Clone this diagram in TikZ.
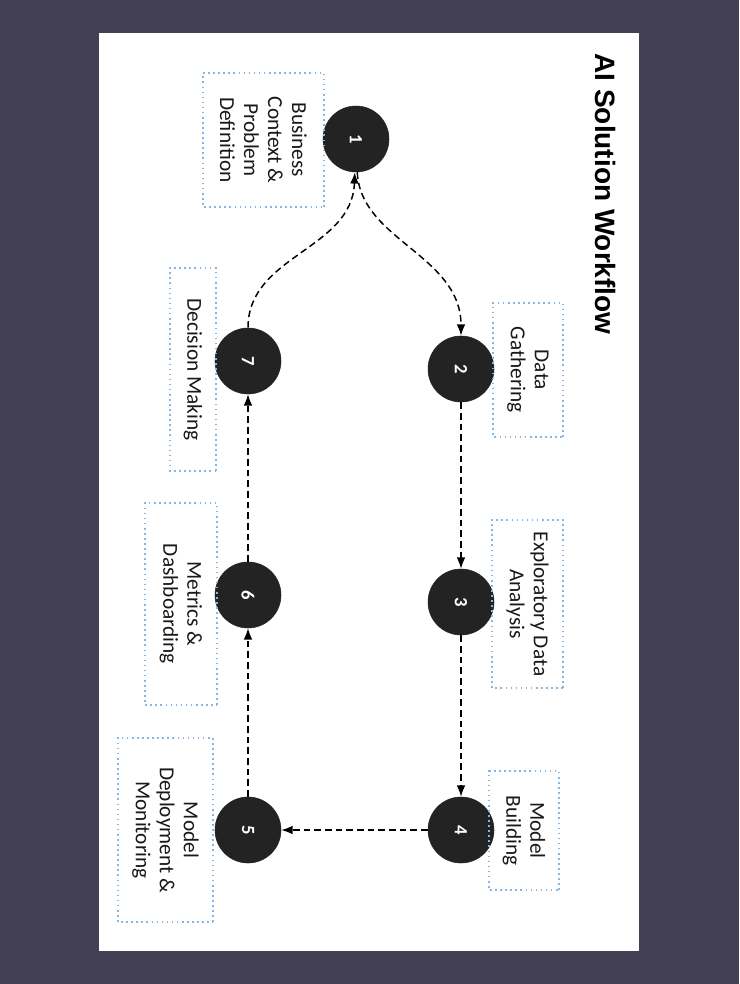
\documentclass[tikz,border=0pt]{standalone}
\usepackage{fontspec}
\setmainfont{Carlito}
\newfontfamily\titlefont{Liberation Sans}
\usepackage{xcolor}
\usepackage{tikz}
\usetikzlibrary{arrows.meta}

\definecolor{bgdark}{HTML}{433F55}
\definecolor{stagefill}{HTML}{232323}
\definecolor{boxblue}{HTML}{86B4E3}

\begin{document}
\begin{tikzpicture}[x=0.75pt,y=-0.75pt,
    stage/.style={circle,fill=stagefill,draw=stagefill,minimum size=49.5pt,inner sep=0pt,
        text=white,font=\fontsize{14}{16}\selectfont\bfseries,rotate=-90},
    infobox/.style={draw=boxblue,line width=1.2pt,dash pattern=on 1.2pt off 2.6pt,
        rotate=-90,align=center,inner sep=0pt,text=black!90,font=\fontsize{16}{18}\selectfont},
    flow/.style={-{Latex[length=8.5pt,width=6.5pt]},dashed,dash pattern=on 5pt off 3pt,line width=1.1pt}]
    % page and panel
    \fill[bgdark] (0,0) rectangle (739,984);
    \useasboundingbox (0,0) rectangle (739,984);
    \fill[white] (99,33) rectangle (639,951);

    \node[rotate=-90,font=\titlefont\bfseries\fontsize{21}{24}\selectfont] (title) at (605,194) {AI Solution Workflow};

    % stages
    \node[stage] (s1) at (356,139) {1};
    \node[stage] (s2) at (461,369) {2};
    \node[stage] (s3) at (461,602) {3};
    \node[stage] (s4) at (461,830) {4};
    \node[stage] (s5) at (248,830) {5};
    \node[stage] (s6) at (248,595) {6};
    \node[stage] (s7) at (248,361) {7};

    % descriptions
    \node[infobox,minimum width=100.5pt,minimum height=90.75pt] (b1) at (263.5,140) {Business\\Context \&\\Problem\\Definition};
    \node[infobox,minimum width=100.5pt,minimum height=52.5pt] (b2) at (528,370) {Data\\Gathering};
    \node[infobox,minimum width=126pt,minimum height=53.25pt] (b3) at (527.5,604) {Exploratory Data\\Analysis};
    \node[infobox,minimum width=89.25pt,minimum height=52.5pt] (b4) at (524,830.5) {Model\\Building};
    \node[infobox,minimum width=138pt,minimum height=71.25pt] (b5) at (165.5,830) {Model\\Deployment \&\\Monitoring};
    \node[infobox,minimum width=151.5pt,minimum height=54pt] (b6) at (181,604) {Metrics \&\\Dashboarding};
    \node[infobox,minimum width=152.25pt,minimum height=34.5pt] (b7) at (193,369.5) {Decision Making};

    % flow
    \draw[flow] (s1) .. controls (360,240) and (461,255) .. (s2);
    \draw[flow] (s2) -- (s3);
    \draw[flow] (s3) -- (s4);
    \draw[flow] (s4) -- (s5);
    \draw[flow] (s5) -- (s6);
    \draw[flow] (s6) -- (s7);
    \draw[flow] (s7) .. controls (248,255) and (352,250) .. (s1);
\end{tikzpicture}
\end{document}
